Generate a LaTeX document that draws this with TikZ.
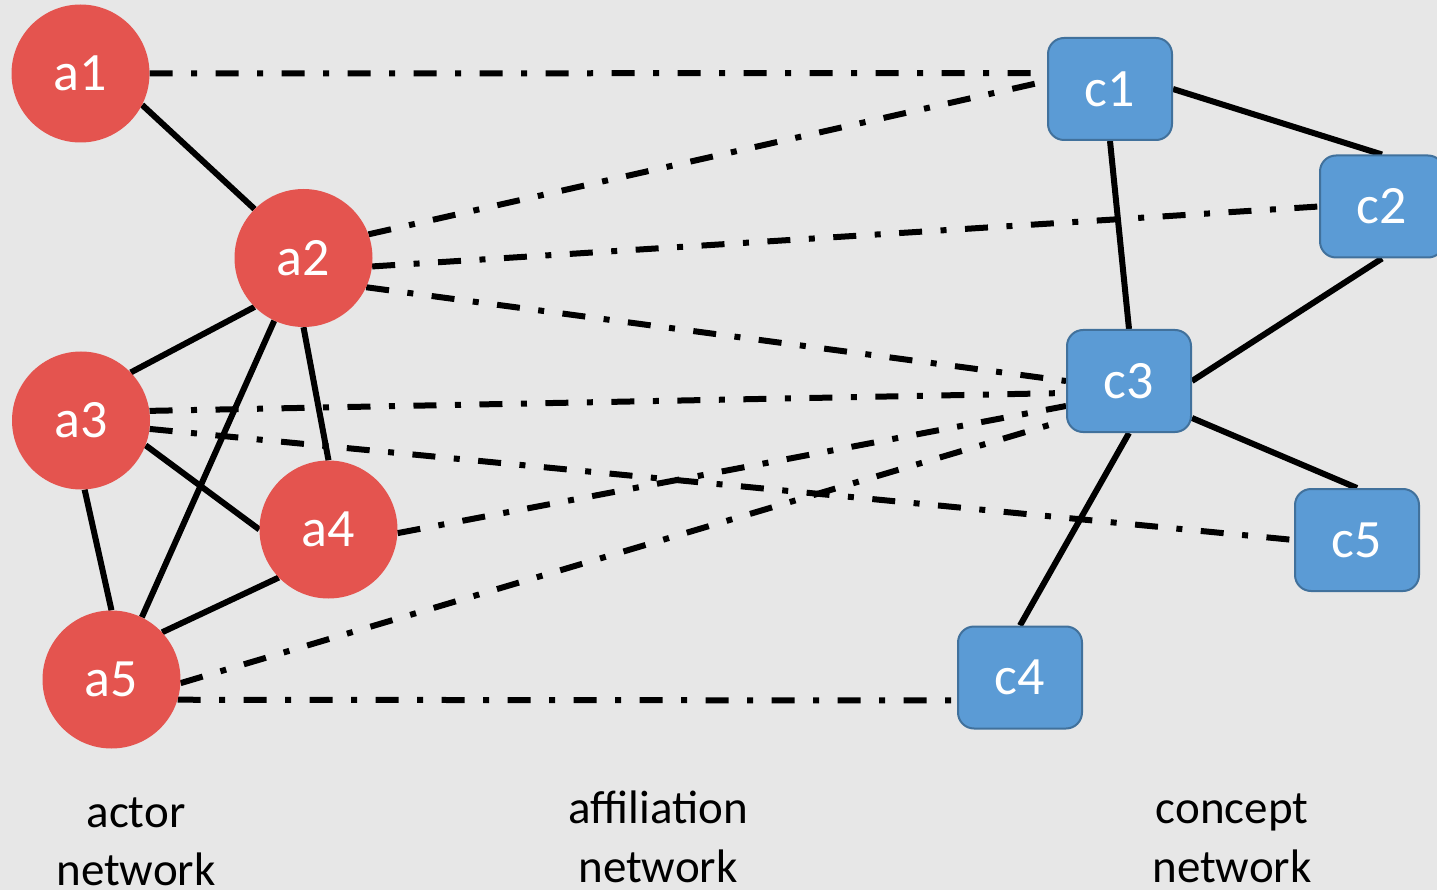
\documentclass[tikz,border=0pt]{standalone}
\usepackage{fontspec}
\setmainfont{Carlito}
\usetikzlibrary{calc}
\definecolor{bgc}{RGB}{231,231,231}
\definecolor{actred}{RGB}{228,84,79}
\definecolor{conblue}{RGB}{91,155,213}
\definecolor{conborder}{RGB}{65,113,156}
\pgfdeclarelayer{bglayer}
\pgfdeclarelayer{edgelayer}
\pgfsetlayers{bglayer,edgelayer,main}
\begin{document}
\begin{tikzpicture}[x=1pt,y=-1pt,
  actor/.style={circle,fill=actred,minimum size=138pt,inner sep=0pt,text=white,font=\fontsize{54}{54}\selectfont},
  concept/.style={rectangle,rounded corners=16pt,fill=conblue,draw=conborder,line width=2pt,minimum width=124pt,minimum height=102pt,inner sep=0pt,text=white,font=\fontsize{54}{54}\selectfont},
  tie/.style={line width=6pt},
  aff/.style={line width=6pt,dash pattern=on 23pt off 18.5pt on 6pt off 18.5pt},
  lbl/.style={anchor=base,inner sep=0pt,font=\fontsize{47}{58}\selectfont,text=black}]
\useasboundingbox (0,0) rectangle (1437,890);
\clip (0,0) rectangle (1437,890);
\begin{pgfonlayer}{bglayer}
\fill[bgc] (0,0) rectangle (1437,890);
\end{pgfonlayer}

\node[actor] (a1) at (80.5,73.5) {a1};
\node[actor] (a2) at (303.5,258) {a2};
\node[actor] (a3) at (81,420.5) {a3};
\node[actor] (a4) at (328.5,529.5) {a4};
\node[actor] (a5) at (111.5,679.5) {a5};

\node[concept] (c1) at (1110,89) {c1};
\node[concept] (c2) at (1382,206.5) {c2};
\node[concept] (c3) at (1129,381) {c3};
\node[concept] (c4) at (1020,677.5) {c4};
\node[concept] (c5) at (1357,540) {c5};

\begin{pgfonlayer}{edgelayer}
\draw[tie] (a1.-27) -- (a2.135);
\draw[tie] (a2.225) -- (a3.44);
\draw[tie] (a2.245) -- (a5.64);
\draw[tie] (a2.270) -- (a4.90);
\draw[tie] (a3.-21) -- (a4.180);
\draw[tie] (a3.-87) -- (a5.90);
\draw[tie] (a4.224) -- (a5.43);
\draw[tie] (c1.east) -- (c2.north);
\draw[tie] (c1.south) -- (c3.north);
\draw[tie] (c2.south) -- (c3.east);
\draw[tie] (c3.south) -- (c4.north);
\draw[tie] ($(c3.east)+(0,37)$) -- (c5.north);

\draw[aff] (a1.0) -- ($(c1.west)+(0,-16)$);
\draw[aff] (a2.20) -- ($(c1.west)+(0,-8)$);
\draw[aff] (a2.-7) -- (c2.west);
\draw[aff] (a2.-25) -- (c3.west);
\draw[aff] (a3.8) -- ($(c3.west)+(0,12)$);
\draw[aff] (a3.-7) -- (c5.west);
\draw[aff] (a4.-3) -- ($(c3.west)+(0,25)$);
\draw[aff] (a5.-3) -- ($(c3.west)+(0,39)$);
\draw[aff] (a5.-17) -- ($(c4.west)+(0,23)$);
\end{pgfonlayer}

\node[lbl] (l1a) at (136,827) {actor};
\node[lbl] (l1b) at (136,885) {network};
\node[lbl] (l2a) at (658,823) {affiliation};
\node[lbl] (l2b) at (658,882) {network};
\node[lbl] (l3a) at (1232,823) {concept};
\node[lbl] (l3b) at (1232,882) {network};
\end{tikzpicture}
\end{document}
